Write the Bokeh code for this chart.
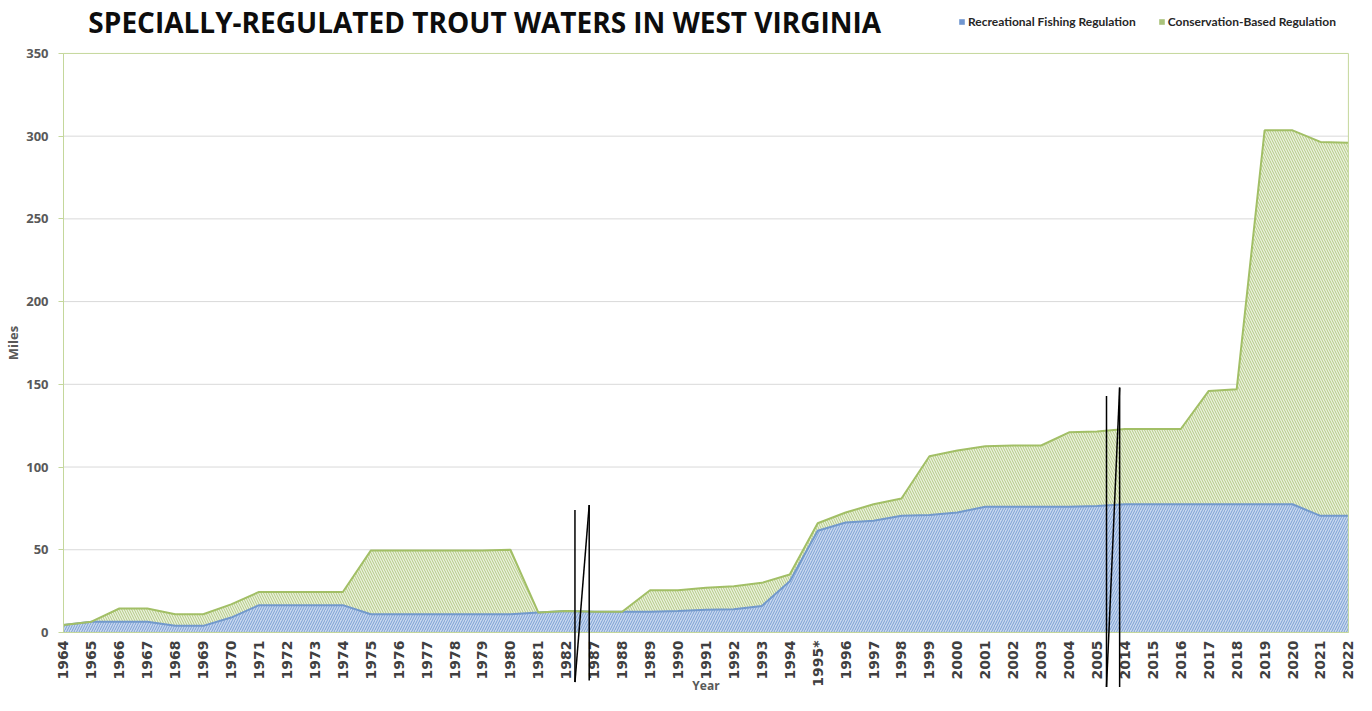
import math
from bokeh.plotting import figure
from bokeh.models import (Range1d, FixedTicker, Legend, LegendItem, PolyAnnotation,
                          ColumnDataSource, Label, BoxAnnotation)
from bokeh.embed import file_html
from bokeh.resources import INLINE

# ---------------- data ----------------
years = ["1964", "1965", "1966", "1967", "1968", "1969", "1970", "1971", "1972", "1973",
         "1974", "1975", "1976", "1977", "1978", "1979", "1980", "1981", "1982",
         "1987", "1988", "1989", "1990", "1991", "1992", "1993", "1994", "1995*", "1996",
         "1997", "1998", "1999", "2000", "2001", "2002", "2003", "2004", "2005",
         "2014", "2015", "2016", "2017", "2018", "2019", "2020", "2021", "2022"]

recreational = [4.5, 6.5, 6.5, 6.5, 4, 4, 9, 16.5, 16.5, 16.5,
                16.5, 11, 11, 11, 11, 11, 11, 12, 13,
                12.5, 12.5, 12.5, 13, 13.7, 14, 16, 31, 61.5, 66.5,
                67.5, 70.5, 71, 72.5, 76, 76, 76, 76, 76.5,
                77.5, 77.5, 77.5, 77.5, 77.5, 77.5, 77.5, 70.5, 70.5]

conservation = [0, 0, 8, 8, 7, 7, 8, 8, 8, 8,
                8, 38.5, 38.5, 38.5, 38.5, 38.5, 39, 0, 0,
                0, 0, 13, 12.5, 13.3, 14, 14, 4, 4.5, 6,
                10, 10.5, 35.5, 37.5, 36.5, 37, 37, 45, 45,
                45.5, 45.5, 45.5, 68.5, 69.5, 226, 226, 226, 225.5]

series_names = ["Recreational Fishing Regulation", "Conservation-Based Regulation"]
y_ticks = [0, 50, 100, 150, 200, 250, 300, 350]
title_text = "SPECIALLY-REGULATED TROUT WATERS IN WEST VIRGINIA"

# axis-break markers: (category index before the break, left/right offsets, top/bottom ends)
breaks = [(18, 0.31, 0.82, 74, 77, -30, -29), (37, 0.34, 0.81, 143, 148, -33, -33)]

# ---------------- layout constants ----------------
N = len(years)
Y_MAX = 350
Y_VIEW_TOP = 382.0       # room above the plot area for title & legend
Y_VIEW_BOTTOM = -38.1    # room below for the category labels
X_VIEW_LEFT = -2.256     # room left for the value axis
X_VIEW_RIGHT = N - 1 + 0.29

idx = list(range(N))
source = ColumnDataSource(dict(x=idx, rec=recreational, cons=conservation))

p = figure(width=1356, height=695, output_backend="svg", toolbar_location=None, title=None,
           x_range=Range1d(X_VIEW_LEFT, X_VIEW_RIGHT), y_range=Range1d(Y_VIEW_BOTTOM, Y_VIEW_TOP),
           min_border_left=0, min_border_right=0, min_border_top=0, min_border_bottom=0,
           background_fill_color="white", border_fill_color="white")
p.outline_line_color = None
p.xgrid.grid_line_color = None
p.ygrid.grid_line_color = None

# horizontal gridlines limited to the plot area
grid_vals = [t for t in y_ticks if 0 < t < Y_MAX]
p.segment(x0=[0] * len(grid_vals), x1=[N - 1] * len(grid_vals), y0=grid_vals, y1=grid_vals,
          line_color="#d9d9d9", line_width=1, level="underlay")

fills = ["#c9d8ef", "#ebf1de"]
hatch_cols = ["#7a9fd3", "#b3ca83"]
edge_cols = ["#7299cc", "#a2bf66"]
legend_cols = ["#7096d0", "#a9c27a"]

areas = p.varea_stack(["rec", "cons"], x="x", source=source,
                      fill_color=fills, hatch_pattern=["/", "\\"],
                      hatch_color=hatch_cols, hatch_scale=5, hatch_weight=1)
p.vline_stack(["rec", "cons"], x="x", source=source, line_color=edge_cols, line_width=2)

# plot-area border
p.add_layout(BoxAnnotation(left=0, right=N - 1, bottom=0, top=Y_MAX,
                           fill_color=None, line_color="#c4d79b", line_width=1, line_alpha=1))

# y axis (drawn at x = 0)
p.yaxis.fixed_location = 0
p.yaxis.ticker = FixedTicker(ticks=y_ticks)
p.yaxis.bounds = (0, Y_MAX)
p.yaxis.axis_line_color = "#c4d79b"
p.yaxis.major_tick_line_color = "#c4d79b"
p.yaxis.major_tick_out = 5
p.yaxis.major_tick_in = 0
p.yaxis.minor_tick_line_color = None
p.yaxis.major_label_standoff = 10
p.yaxis.major_label_text_font = "Open Sans"
p.yaxis.major_label_text_font_style = "bold"
p.yaxis.major_label_text_font_size = "13px"
p.yaxis.major_label_text_color = "#595959"
p.yaxis.axis_label = "Miles"
p.yaxis.axis_label_text_font = "Open Sans"
p.yaxis.axis_label_text_font_style = "bold"
p.yaxis.axis_label_text_font_size = "13px"
p.yaxis.axis_label_text_color = "#595959"
p.yaxis.axis_label_standoff = 1

# x axis (drawn at y = 0), labels read bottom-to-top
p.xaxis.fixed_location = 0
p.xaxis.bounds = (0, N - 1)
p.xaxis.ticker = FixedTicker(ticks=idx)
p.xaxis.major_label_overrides = {i: y for i, y in zip(idx, years)}
p.xaxis.major_label_orientation = math.pi / 2
p.xaxis.axis_line_color = "#c4d79b"
p.xaxis.major_tick_line_color = None
p.xaxis.major_tick_out = 0
p.xaxis.major_tick_in = 0
p.xaxis.minor_tick_line_color = None
p.xaxis.major_label_standoff = 8
p.xaxis.major_label_text_font = "DejaVu Sans"
p.xaxis.major_label_text_font_style = "bold"
p.xaxis.major_label_text_font_size = "14px"
p.xaxis.major_label_text_color = "#404040"
p.xaxis.axis_label = "Year"
p.xaxis.axis_label_text_font = "Open Sans"
p.xaxis.axis_label_text_font_style = "bold"
p.xaxis.axis_label_text_font_size = "12px"
p.xaxis.axis_label_text_color = "#595959"
p.xaxis.axis_label_standoff = -13

# title
p.add_layout(Label(x=0.89, y=369.0, text=title_text, text_font="Open Sans",
                   text_font_style="bold", text_font_size="28px", text_color="#0d0d0d",
                   text_baseline="middle", text_align="left"))

# legend (solid swatches, as in the original); swatch glyphs hold no visible data
nan = float("nan")
swatches = [p.quad(left=[nan], right=[nan], top=[nan], bottom=[nan], fill_color=c, line_color=None)
            for c in legend_cols]
legend = Legend(items=[LegendItem(label=series_names[i], renderers=[swatches[i]]) for i in range(2)],
                orientation="horizontal", location=(958, 666),
                glyph_width=7, glyph_height=7, label_standoff=3, spacing=22,
                padding=0, margin=0, border_line_color=None, background_fill_alpha=0,
                label_text_font="Lato", label_text_font_style="bold",
                label_text_font_size="12px", label_text_color="#262626")
p.add_layout(legend, "center")

# axis-break markers
for (b, lo, ro, lt, rt, lb, rb) in breaks:
    xl, xr = b + lo, b + ro
    for xs, ys in [([xl, xl], [lt, lb]), ([xl, xr], [lb, rt]), ([xr, xr], [rt, rb])]:
        p.add_layout(PolyAnnotation(xs=xs, ys=ys, fill_alpha=0, line_color="black",
                                    line_alpha=1, line_width=1.5))

open("out.html", "w").write(file_html(p, INLINE))
